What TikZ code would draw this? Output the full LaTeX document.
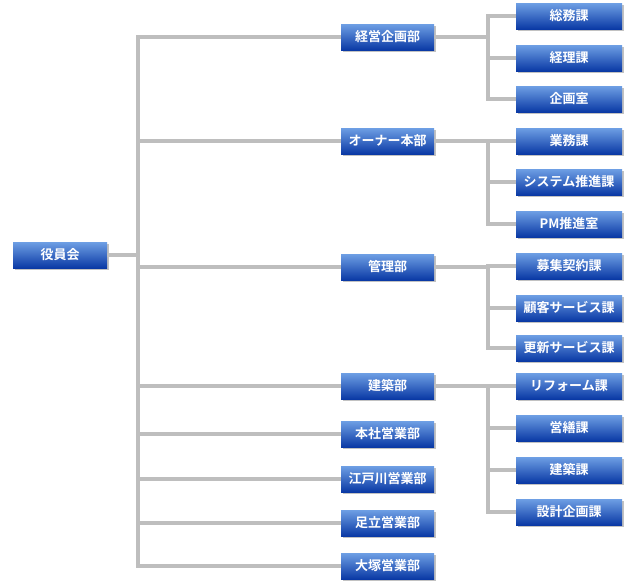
\documentclass[tikz, border = 0pt]{standalone}
\usepackage{fontspec}
\setmainfont{Noto Sans CJK JP}[BoldFont = {Noto Sans CJK JP Bold}]
\usetikzlibrary{shadows}

\definecolor{boxtop}{HTML}{6E9FE4}
\definecolor{boxmid}{HTML}{2C64C9}
\definecolor{boxbot}{HTML}{0A39A5}
\definecolor{linkgray}{HTML}{BEBEBE}

\tikzset{
	orgbox/.style = {rectangle, minimum height = 26pt, inner sep = 0pt,
		top color = boxtop, middle color = boxmid, bottom color = boxbot,
		text = white, font = \bfseries\fontsize{13}{13}\selectfont,
		drop shadow = {shadow xshift = 1.5pt, shadow yshift = -1.5pt, fill = black!40, opacity = 0.6}},
	boardbox/.style = {orgbox, minimum width = 94pt},
	deptbox/.style = {orgbox, minimum width = 93pt},
	secbox/.style = {orgbox, minimum width = 106pt},
	link/.style = {draw = linkgray, line width = 3.2pt}
}

\begin{document}
\begin{tikzpicture}[x = 1pt, y = -1pt]

	\useasboundingbox (0, 0) rectangle (637, 587);

	% Board

	\node [boardbox] (board) at (60, 255) {役員会};

	% Departments

	\node [deptbox] (keiei)    at (387.5, 37)  {経営企画部};
	\node [deptbox] (owner)    at (387.5, 141) {オーナー本部};
	\node [deptbox] (kanri)    at (387.5, 267) {管理部};
	\node [deptbox] (kenchiku) at (387.5, 386) {建築部};
	\node [deptbox] (honsha)   at (387.5, 434) {本社営業部};
	\node [deptbox] (edogawa)  at (387.5, 479) {江戸川営業部};
	\node [deptbox] (adachi)   at (387.5, 523) {足立営業部};
	\node [deptbox] (otsuka)   at (387.5, 566) {大塚営業部};

	% Sections

	\node [secbox] (soumu)    at (569, 16)  {総務課};
	\node [secbox] (keiri)    at (569, 58)  {経理課};
	\node [secbox] (kikaku)   at (569, 99)  {企画室};

	\node [secbox] (gyomu)    at (569, 141) {業務課};
	\node [secbox] (system)   at (569, 182) {システム推進課};
	\node [secbox] (pm)       at (569, 224) {PM推進室};

	\node [secbox] (boshu)    at (569, 266) {募集契約課};
	\node [secbox] (kokyaku)  at (569, 308) {顧客サービス課};
	\node [secbox] (koshin)   at (569, 348) {更新サービス課};

	\node [secbox] (reform)   at (569, 386) {リフォーム課};
	\node [secbox] (eizen)    at (569, 428) {営繕課};
	\node [secbox] (kenka)    at (569, 470) {建築課};
	\node [secbox] (sekkei)   at (569, 512) {設計企画課};

	% Trunk from the board

	\coordinate (trunk) at (138, 0);
	\coordinate (bus) at (488, 0);

	\draw [link] (keiei.west) -| (trunk |- otsuka.west) -- (otsuka.west);
	\draw [link] (board.east) -- (board.east -| trunk);

	\foreach \d in {owner, kanri, kenchiku, honsha, edogawa, adachi}
		\draw [link] (\d.west) -- (\d.west -| trunk);

	% Buses to the sections

	\foreach \d/\a/\b/\c in {keiei/soumu/keiri/kikaku, owner/gyomu/system/pm, kanri/boshu/kokyaku/koshin}
	{
		\draw [link] (\d.east) -- (\d.east -| bus);
		\draw [link] (\a.west) -| (\c.west -| bus) -- (\c.west);
		\draw [link] (\b.west) -- (\b.west -| bus);
	}

	\draw [link] (kenchiku.east) -- (kenchiku.east -| bus);
	\draw [link] (reform.west) -| (sekkei.west -| bus) -- (sekkei.west);
	\foreach \s in {eizen, kenka}
		\draw [link] (\s.west) -- (\s.west -| bus);

\end{tikzpicture}
\end{document}
